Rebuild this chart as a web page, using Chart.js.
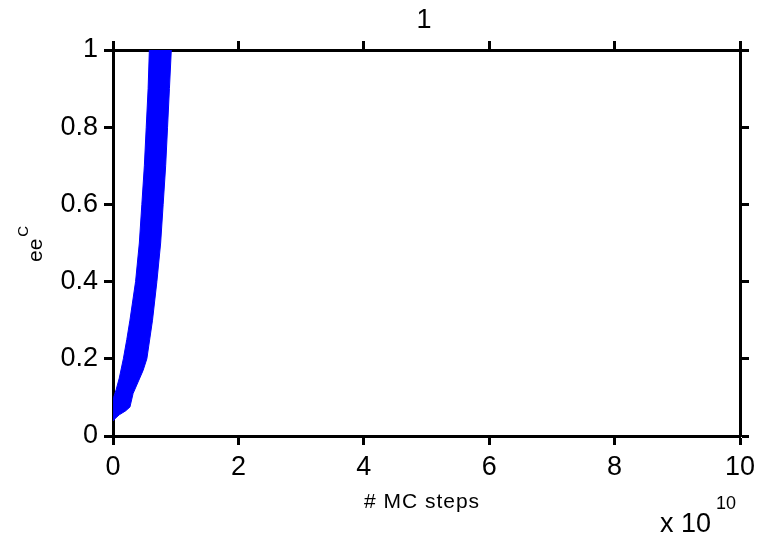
<!DOCTYPE html>
<html>
<head>
<meta charset="utf-8">
<script src="https://cdn.jsdelivr.net/npm/chart.js@4/dist/chart.umd.min.js"></script>
<style>
  html, body { margin: 0; padding: 0; background: #fff; }
</style>
</head>
<body>
<canvas id="grafico" width="767" height="533"></canvas>
<script>
// datos (x en unidades de 10^10 pasos MC)
const bordeIzqX = [0, 0.01, 0.05, 0.1, 0.165, 0.22, 0.27, 0.36, 0.42, 0.46, 0.5, 0.53, 0.56, 0.58];
const bordeIzqY = [0.04, 0.1, 0.12, 0.15, 0.2, 0.25, 0.3, 0.4, 0.5, 0.6, 0.7, 0.8, 0.9, 1.0];
const bordeDerX = [0.93, 0.9, 0.87, 0.84, 0.8, 0.76, 0.7, 0.63, 0.54, 0.48, 0.4, 0.32, 0.27, 0.2, 0.1, 0];
const bordeDerY = [1.0, 0.9, 0.8, 0.7, 0.6, 0.5, 0.4, 0.3, 0.2, 0.17, 0.14, 0.11, 0.075, 0.065, 0.055, 0.04];
const ticksX = [0, 2, 4, 6, 8, 10];
const ticksY = [0, 0.2, 0.4, 0.6, 0.8, 1];

const fuente = 'Arial, "Liberation Sans", sans-serif';

// poligono cerrado: sube por el borde izquierdo y baja por el derecho
const puntos = [];
bordeIzqX.forEach((x, i) => puntos.push({ x: x, y: bordeIzqY[i] }));
bordeDerX.forEach((x, i) => puntos.push({ x: x, y: bordeDerY[i] }));

const textos = {
  id: 'textos',
  afterDraw(chart) {
    const ctx = chart.ctx;
    const area = chart.chartArea;
    ctx.save();
    ctx.fillStyle = '#000';
    ctx.textAlign = 'center';
    ctx.textBaseline = 'alphabetic';
    ctx.font = '27px ' + fuente;
    ctx.fillText('1', 424, 28);

    ctx.font = '21px ' + fuente;
    ctx.letterSpacing = '1px';
    ctx.fillText('# MC steps', 422, 508);
    ctx.letterSpacing = '0px';

    // x 10^10
    ctx.textAlign = 'left';
    ctx.font = '27px ' + fuente;
    ctx.fillText('x 10', 660, 532);
    ctx.font = '18px ' + fuente;
    ctx.fillText('10', 716, 509);

    // ee^C rotado
    ctx.translate(42, 262);
    ctx.rotate(-Math.PI / 2);
    ctx.font = '21px ' + fuente;
    ctx.fillText('ee', 0, 0);
    const w = ctx.measureText('ee').width;
    ctx.font = '15px ' + fuente;
    ctx.fillText('C', w + 2, -14);
    ctx.restore();
  }
};

function ejeComun(extra) {
  return Object.assign({
    type: 'linear',
    border: { display: true, color: '#000', width: 3 },
    grid: {
      display: true,
      drawOnChartArea: false,
      drawTicks: true,
      tickLength: 9,
      tickWidth: 3,
      color: '#000'
    }
  }, extra);
}

const formato = v => String(+Number(v).toFixed(1));

new Chart(document.getElementById('grafico'), {
  type: 'scatter',
  data: {
    datasets: [{
      data: puntos,
      showLine: true,
      borderColor: '#0000ff',
      backgroundColor: '#0000ff',
      borderWidth: 1,
      pointRadius: 0,
      fill: 'shape',
      tension: 0
    }]
  },
  options: {
    responsive: false,
    animation: false,
    devicePixelRatio: 1,
    layout: { padding: 0 },
    plugins: { legend: { display: false }, tooltip: { enabled: false }, title: { display: false } },
    scales: {
      x: ejeComun({
        position: 'bottom', min: 0, max: 10,
        afterBuildTicks: s => { s.ticks = ticksX.map(v => ({ value: v })); },
        ticks: { color: '#000', padding: 6, maxRotation: 0, callback: formato, font: { size: 27, family: fuente } },
        afterFit: s => { s.height = 97; }
      }),
      x2: ejeComun({
        position: 'top', min: 0, max: 10,
        afterBuildTicks: s => { s.ticks = ticksX.map(v => ({ value: v })); },
        ticks: { display: false },
        afterFit: s => { s.height = 50; }
      }),
      y: ejeComun({
        position: 'left', min: 0, max: 1,
        afterBuildTicks: s => { s.ticks = ticksY.map(v => ({ value: v })); },
        ticks: { color: '#000', padding: 6, callback: formato, font: { size: 27, family: fuente } },
        afterFit: s => { s.width = 113; }
      }),
      y2: ejeComun({
        position: 'right', min: 0, max: 1,
        afterBuildTicks: s => { s.ticks = ticksY.map(v => ({ value: v })); },
        ticks: { display: false },
        afterFit: s => { s.width = 27; }
      })
    }
  },
  plugins: [textos]
});
</script>
</body>
</html>
